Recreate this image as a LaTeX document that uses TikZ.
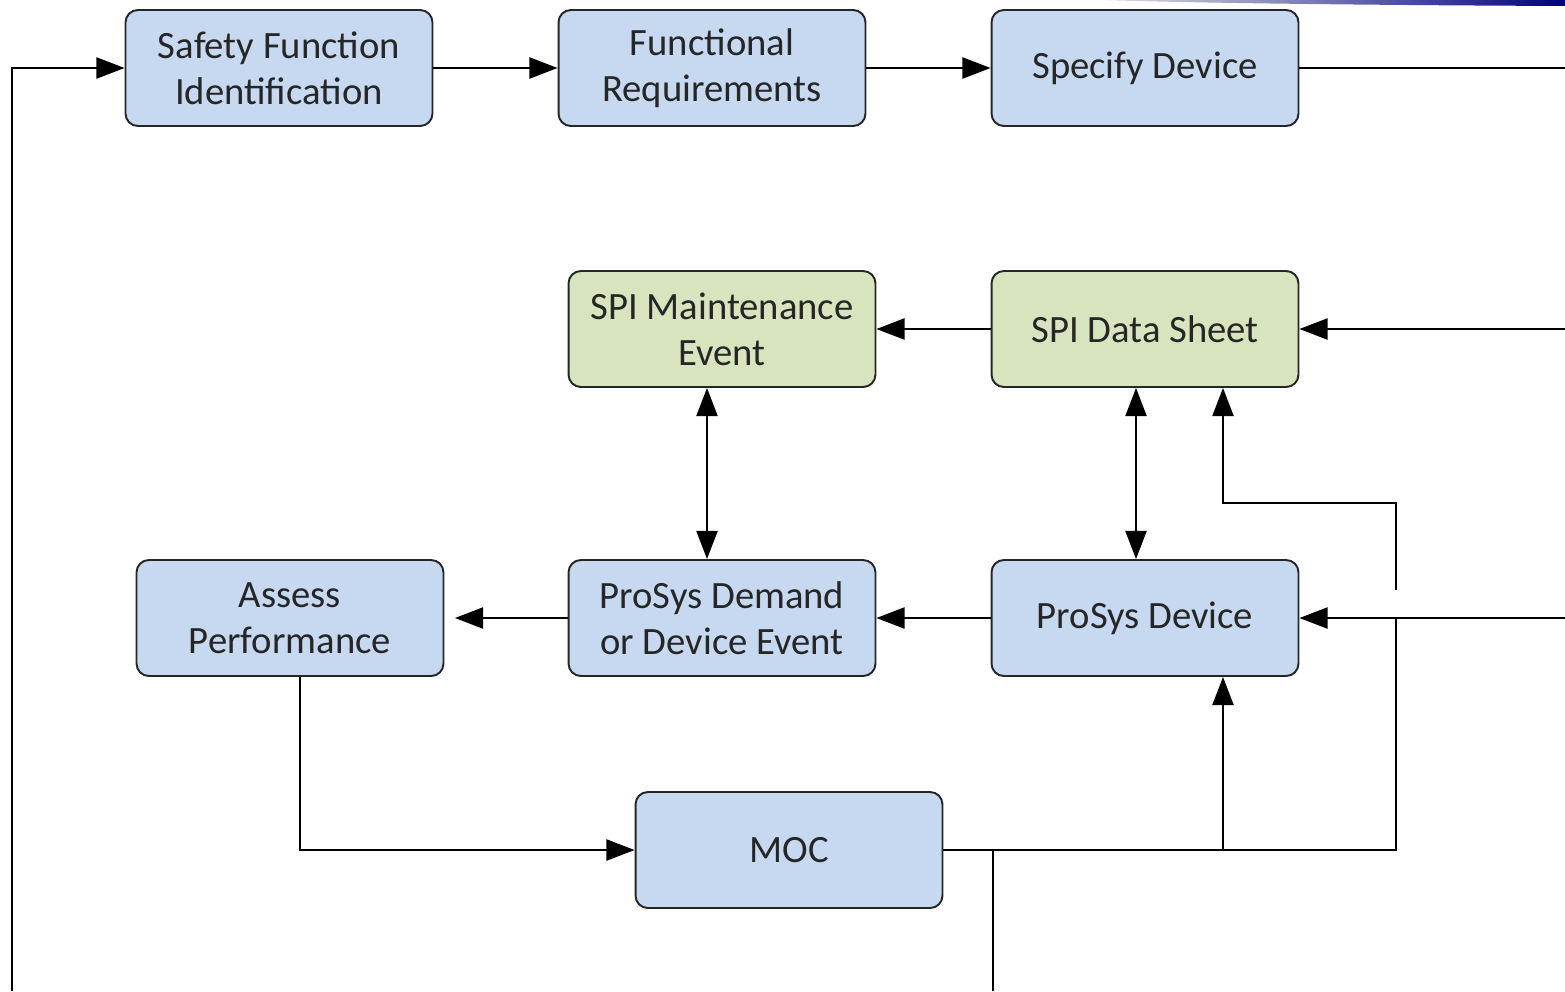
\documentclass[tikz,border=0pt]{standalone}
\usepackage{fontspec}
\setmainfont{Carlito}
\usetikzlibrary{arrows.meta}
\definecolor{boxblue}{HTML}{C6D9F1}
\definecolor{boxgreen}{HTML}{D7E4BD}
\definecolor{txtgray}{HTML}{262626}

\begin{document}
\begin{tikzpicture}[x=0.02cm,y=-0.02cm,
    blk/.style={draw=black!85, line width=1.1pt, rounded corners=7pt,
      minimum width=6.14cm, minimum height=2.32cm, align=center,
      text=txtgray, font=\fontsize{22}{26}\selectfont},
    bluebox/.style={blk, fill=boxblue},
    greenbox/.style={blk, fill=boxgreen},
    wire/.style={line width=1.1pt},
    conn/.style={wire, -{Triangle[length=16pt,width=12pt]}},
    dconn/.style={wire, {Triangle[length=16pt,width=12pt]}-{Triangle[length=16pt,width=12pt]}}]

    \useasboundingbox (0,0) rectangle (1565,991);

    % strip at the top right
    \shade[left color=gray!25, right color=blue!50!black]
      (1100,0) -- (1565,0) -- (1565,6) .. controls (1350,5) and (1200,3) .. (1100,0);

    \node[bluebox] (sfi) at (279,68) {Safety Function\\Identification};
    \node[bluebox] (fr) at (712,68) {Functional\\Requirements};
    \node[bluebox] (sd) at (1145,68) {Specify Device};

    \node[greenbox] (sme) at (722,329) {SPI Maintenance\\Event};
    \node[greenbox] (sds) at (1145,329) {SPI Data Sheet};

    \node[bluebox] (ap) at (290,618) {Assess\\Performance};
    \node[bluebox] (pd) at (722,618) {ProSys Demand\\or Device Event};
    \node[bluebox] (pdv) at (1145,618) {ProSys Device};

    \node[bluebox] (moc) at (789,850) {MOC};

    \coordinate (lb) at (12,991);
    \coordinate (re1) at (1565,68);
    \coordinate (re2) at (1565,329);
    \coordinate (re3) at (1565,618);
    \coordinate (j1) at (1223,850);
    \coordinate (j2) at (1396,850);
    \coordinate (j3) at (993,850);
    \coordinate (j4) at (1396,618);
    \coordinate (bb) at (993,991);
    \coordinate (h1) at (1396,590);
    \coordinate (k1) at (1223,503);

    % top row
    \draw[conn] (lb) |- (sfi.west);
    \draw[conn] (sfi) -- (fr);
    \draw[conn] (fr) -- (sd);
    \draw[wire] (sd) -- (re1);

    % middle rows
    \draw[conn] (re2) -- (sds);
    \draw[conn] (sds) -- (sme);
    \draw[dconn] ([xshift=-0.3cm]sme.south) -- ([xshift=-0.3cm]pd.north);
    \draw[dconn] ([xshift=-0.18cm]sds.south) -- ([xshift=-0.18cm]pdv.north);
    \draw[conn] (h1) |- (k1) -- (k1 |- sds.south);
    \draw[conn] (re3) -- (pdv);
    \draw[conn] (pdv) -- (pd);
    \draw[conn, shorten >=6pt] (pd) -- (ap);

    % bottom
    \draw[conn] ([xshift=0.2cm]ap.south) |- (moc.west);
    \draw[wire] (moc.east) -- (j2) -- (j4);
    \draw[conn] (j1) -- (j1 |- pdv.south);
    \draw[wire] (j3) -- (bb);

  \end{tikzpicture}
\end{document}
